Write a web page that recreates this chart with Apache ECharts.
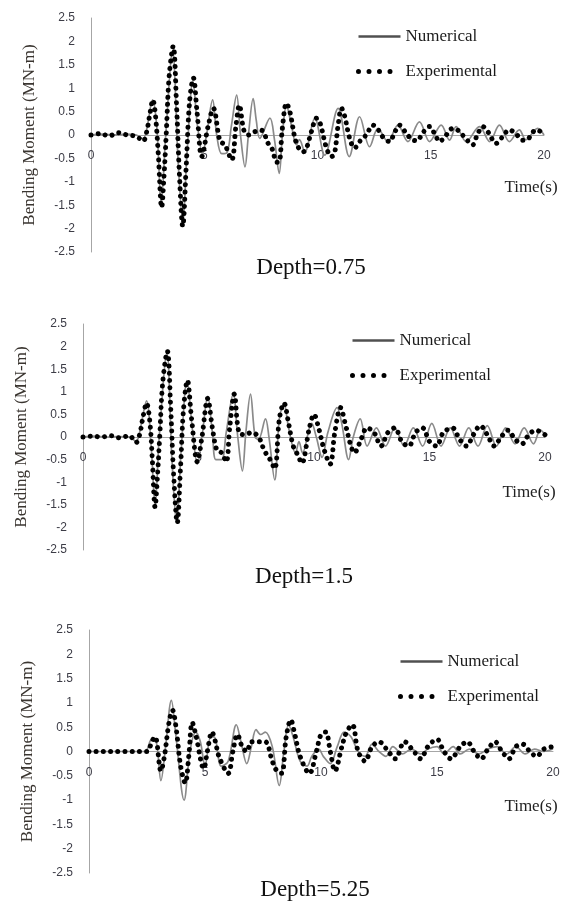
<!DOCTYPE html>
<html>
<head>
<meta charset="utf-8">
<script src="https://cdn.jsdelivr.net/npm/echarts@6/dist/echarts.min.js"></script>
<style>
html,body{margin:0;padding:0;background:#fff;}
#chart{width:568px;height:906px;}
</style>
</head>
<body>
<div id="chart"></div>
<script>
// ---- data (time s, bending moment MN-m) ----
const xTicks = [0, 5, 10, 15, 20];
const yTicks = [-2.5, -2, -1.5, -1, -0.5, 0, 0.5, 1, 1.5, 2, 2.5];
const seriesNames = ['Numerical', 'Experimental'];
const panelTitles = ['Depth=0.75', 'Depth=1.5', 'Depth=5.25'];

const num1 = [[0,0],[0.5,0.02],[1,0],[1.5,0.02],[2,0],[2.3,-0.08],[2.45,0.1],[2.72,0.75],[2.9,0.2],[3.1,-1.42],[3.3,0],[3.6,1.8],[3.85,-0.6],[4.05,-1.85],[4.25,-0.3],[4.5,1.15],[4.7,0.2],[4.93,-0.4],[5.1,0],[5.37,0.75],[5.55,0],[5.77,-0.4],[6.0,-0.38],[6.2,0.2],[6.43,0.85],[6.6,0],[6.8,-0.68],[6.95,0],[7.16,0.78],[7.3,0.3],[7.45,-0.07],[7.9,0.36],[8.1,-0.1],[8.31,-0.82],[8.45,0],[8.63,0.64],[8.85,0.2],[9.07,-0.21],[9.2,-0.1],[9.44,-0.36],[9.88,0.36],[10.32,-0.43],[10.91,0.57],[11.4,-0.46],[11.86,0.39],[12.3,-0.25],[12.67,0.14],[13.1,-0.14],[13.55,0.21],[13.99,-0.14],[14.5,0.28],[14.95,-0.14],[15.46,0.21],[15.83,-0.11],[16.12,0.18],[16.56,-0.14],[17.15,0.18],[17.6,-0.14],[18.03,0.21],[18.47,-0.14],[18.91,0.11],[19.2,-0.1],[19.72,0.14],[20,0]];
const exp1 = [[0,0],[0.4,0.03],[0.8,-0.02],[1.2,0.05],[1.6,0],[2,-0.03],[2.3,-0.13],[2.45,0.05],[2.6,0.45],[2.73,0.75],[2.85,0.4],[2.97,-0.4],[3.12,-1.55],[3.22,-0.9],[3.32,0],[3.45,1.25],[3.63,1.9],[3.78,0.6],[3.9,-0.8],[4.05,-1.95],[4.2,-0.7],[4.35,0.7],[4.52,1.22],[4.68,0.5],[4.89,-0.46],[5.18,0.21],[5.4,0.57],[5.7,-0.14],[5.9,-0.2],[6.21,-0.53],[6.4,0.2],[6.55,0.64],[6.75,0.1],[6.95,0],[7.24,0.07],[7.53,0.1],[7.82,-0.18],[8,-0.3],[8.2,-0.58],[8.3,-0.58],[8.45,0.15],[8.63,0.68],[8.78,0.5],[9.07,-0.18],[9.37,-0.36],[9.5,-0.3],[9.73,0.07],[9.96,0.36],[10.1,0.28],[10.4,-0.28],[10.62,-0.46],[10.75,-0.4],[10.91,0.21],[11.06,0.57],[11.2,0.4],[11.42,-0.07],[11.64,-0.28],[11.86,-0.14],[12.15,0],[12.45,0.21],[12.7,0.1],[12.9,-0.05],[13.18,-0.14],[13.4,0.05],[13.62,0.21],[13.9,0.05],[14.21,-0.11],[14.4,-0.12],[14.65,0.05],[14.95,0.18],[15.2,0],[15.39,-0.14],[15.65,-0.02],[15.97,0.14],[16.2,0.1],[16.5,-0.05],[16.85,-0.21],[17.05,0],[17.3,0.18],[17.55,0.05],[17.88,-0.18],[18.15,-0.05],[18.47,0.11],[18.75,0.03],[19.06,-0.11],[19.3,-0.08],[19.65,0.11],[19.87,0.07],[20,0.02]];

const num2 = [[0,0],[0.5,0.02],[1,0],[1.5,0.01],[2,0],[2.3,-0.1],[2.45,0.1],[2.75,0.8],[2.95,-0.2],[3.12,-1.5],[3.3,0],[3.63,1.85],[3.85,-0.5],[4.05,-1.9],[4.25,-0.3],[4.5,1.25],[4.75,0.1],[4.95,-0.6],[5.15,0],[5.4,0.9],[5.6,0.1],[5.75,-0.5],[6,-0.5],[6.2,0.1],[6.5,0.95],[6.7,0],[6.9,-0.75],[7.05,0.1],[7.25,0.95],[7.45,0],[7.6,-0.05],[7.9,0.4],[8.05,0],[8.3,-0.95],[8.5,0.4],[8.7,0.75],[8.9,0.2],[9.2,-0.35],[9.35,-0.1],[9.5,-0.35],[9.9,0.3],[10.1,0],[10.35,-0.45],[10.6,0.1],[11,0.65],[11.2,0.3],[11.5,-0.5],[11.7,0],[12,0.4],[12.3,-0.2],[12.7,0.2],[13.1,-0.2],[13.5,0.2],[13.9,-0.2],[14.3,0.2],[14.7,-0.2],[15.1,0.3],[15.5,-0.2],[15.9,0.2],[16.3,-0.2],[16.7,0.2],[17.1,-0.2],[17.5,0.25],[17.9,-0.2],[18.3,0.2],[18.7,-0.15],[19.1,0.2],[19.5,-0.15],[19.8,0.15],[20,0.05]];
const exp2 = [[0,0],[0.4,0.02],[0.8,0],[1.2,0.03],[1.6,-0.02],[2,0.03],[2.3,-0.12],[2.45,0.05],[2.6,0.45],[2.75,0.75],[2.9,0.3],[3.0,-0.5],[3.12,-1.55],[3.22,-0.9],[3.32,0],[3.45,1.2],[3.65,1.9],[3.8,0.6],[3.92,-0.8],[4.08,-1.9],[4.22,-0.7],[4.35,0.6],[4.52,1.25],[4.7,0.4],[4.95,-0.55],[5.15,0],[5.4,0.85],[5.6,0.2],[5.8,-0.3],[6.0,-0.35],[6.2,-0.55],[6.35,0.2],[6.55,0.95],[6.75,0.1],[7.0,0.05],[7.3,0.1],[7.6,0.0],[7.85,-0.3],[8.1,-0.5],[8.3,-0.7],[8.5,0.4],[8.7,0.75],[8.9,0.3],[9.1,-0.2],[9.3,-0.4],[9.47,-0.58],[9.8,0.2],[10.0,0.5],[10.2,0.2],[10.45,-0.3],[10.7,-0.6],[10.9,0.1],[11.15,0.65],[11.35,0.3],[11.6,-0.2],[11.75,-0.35],[12.0,-0.1],[12.3,0.2],[12.6,0.1],[12.9,-0.2],[13.2,0.1],[13.5,0.2],[13.8,-0.1],[14.1,-0.2],[14.4,0.1],[14.7,0.2],[15.0,-0.1],[15.3,-0.2],[15.6,0.1],[16.0,0.2],[16.3,-0.05],[16.6,-0.2],[16.9,0.05],[17.2,0.25],[17.5,0.05],[17.8,-0.2],[18.1,0.0],[18.4,0.15],[18.7,-0.05],[19.0,-0.15],[19.3,0.05],[19.6,0.15],[20,0.05]];

const num3 = [[0,0],[2.4,0],[2.7,0.25],[2.9,0.2],[3.1,-0.6],[3.3,0.1],[3.55,1.05],[3.75,0.3],[4.1,-1.0],[4.35,0],[4.6,0.4],[4.8,0.2],[5,-0.3],[5.25,0.3],[5.4,0.3],[5.7,-0.3],[6,-0.2],[6.35,0.55],[6.55,0.2],[6.8,-0.25],[7,0.1],[7.2,0.45],[7.4,0.35],[7.6,0.4],[7.9,0.1],[8.2,-0.7],[8.4,0],[8.6,0.55],[8.8,0.3],[9.1,-0.2],[9.4,-0.3],[9.6,-0.1],[9.9,0.05],[10.1,-0.1],[10.4,-0.25],[10.7,0.1],[11,0.4],[11.3,0.3],[11.6,0],[11.9,-0.1],[12.2,0.15],[12.5,0],[12.8,-0.1],[13.1,0.1],[13.5,-0.05],[13.9,0.05],[14.3,-0.05],[14.6,0.05],[15,0.1],[15.3,-0.05],[15.7,0.1],[16,-0.05],[16.4,0.05],[16.8,-0.05],[17.2,0.05],[17.6,0.1],[18,-0.05],[18.4,0.1],[18.8,-0.05],[19.2,0.05],[19.6,0],[20,0.05]];
const exp3 = [[0,0],[2.5,0],[2.7,0.2],[2.85,0.3],[3.1,-0.4],[3.25,-0.1],[3.45,0.6],[3.6,0.85],[3.75,0.5],[3.95,-0.3],[4.15,-0.65],[4.3,-0.1],[4.45,0.6],[4.6,0.35],[4.95,-0.35],[5.1,0],[5.3,0.4],[5.45,0.2],[5.6,-0.1],[6,-0.45],[6.2,0],[6.4,0.35],[6.6,0.1],[6.8,0],[7,0.2],[7.3,0.2],[7.6,0.2],[7.9,-0.2],[8.1,-0.4],[8.3,-0.45],[8.5,0.3],[8.7,0.65],[8.85,0.4],[9.1,-0.1],[9.5,-0.45],[9.8,0],[10,0.35],[10.2,0.4],[10.4,0],[10.6,-0.4],[10.9,0.1],[11.1,0.4],[11.35,0.55],[11.6,0],[11.9,-0.2],[12.2,0.1],[12.5,0.2],[12.9,0],[13.2,-0.15],[13.6,0.2],[14,0],[14.3,-0.15],[14.6,0.1],[15,0.25],[15.3,0],[15.6,-0.15],[16,0.1],[16.3,0.2],[16.6,0],[16.9,-0.15],[17.2,0.05],[17.5,0.2],[17.8,0],[18.1,-0.15],[18.4,0.1],[18.7,0.15],[19,0],[19.3,-0.1],[19.6,0.05],[20,0.1]];

const panelData = [[num1, exp1], [num2, exp2], [num3, exp3]];

// ---- layout ----
const grids = [
  {left: 91, top: 18, width: 453, height: 234},
  {left: 83, top: 324, width: 462, height: 226},
  {left: 89, top: 630, width: 464, height: 243}
];
const legendPos = [{left: 356, top: 28}, {left: 350, top: 332}, {left: 398, top: 653}];
const timePos = [{x: 531, y: 188}, {x: 529, y: 493}, {x: 531, y: 807}];
const depthPos = [{x: 311, y: 268}, {x: 304, y: 577}, {x: 315, y: 890}];

const serif = 'Liberation Serif';
const sans = 'Liberation Sans';

const option = {
  animation: false,
  backgroundColor: '#fff',
  grid: grids.map(g => Object.assign({containLabel: false}, g)),
  xAxis: grids.map((g, i) => ({
    gridIndex: i, type: 'value', min: xTicks[0], max: xTicks[xTicks.length - 1], interval: 5,
    position: 'bottom', offset: -g.height / 2,
    axisLine: {onZero: false, lineStyle: {color: '#a6a6a6', width: 1}},
    axisTick: {show: false},
    splitLine: {show: false},
    axisLabel: {color: '#3c3c46', fontFamily: sans, fontSize: 12, margin: 15,
      formatter: v => xTicks.includes(v) ? String(v) : ''}
  })),
  yAxis: grids.map((g, i) => ({
    gridIndex: i, type: 'value', min: yTicks[0], max: yTicks[yTicks.length - 1], interval: 0.5,
    axisLine: {show: true, onZero: false, lineStyle: {color: '#a6a6a6', width: 1}},
    axisTick: {show: false},
    splitLine: {show: false},
    axisLabel: {color: '#3c3c46', fontFamily: sans, fontSize: 12, margin: 16,
      formatter: v => String(v)},
    name: 'Bending Moment (MN-m)', nameLocation: 'middle', nameGap: 53,
    nameTextStyle: {fontFamily: serif, fontSize: 17, color: '#3a3530'}
  })),
  legend: legendPos.map(p => ({
    orient: 'vertical', left: p.left, top: p.top,
    itemWidth: 42, itemHeight: 14, itemGap: 18, padding: 0,
    itemStyle: {color: 'rgba(0,0,0,0)', borderWidth: 0, opacity: 0},
    data: [
      {name: seriesNames[0], lineStyle: {color: '#505050', width: 2.4, type: 'solid'}},
      {name: seriesNames[1], lineStyle: {color: '#000', width: 5, type: [0.001, 10.5], cap: 'round'}}
    ],
    textStyle: {fontFamily: serif, fontSize: 17, color: '#1a1a1a'}
  })),
  title: panelTitles.map((t, i) => ({
    text: t, left: depthPos[i].x, top: depthPos[i].y, textAlign: 'center', textVerticalAlign: 'middle', padding: 0,
    textStyle: {fontFamily: serif, fontSize: 23, fontWeight: 'normal', color: '#111'}
  })).concat(timePos.map(p => ({
    text: 'Time(s)', left: p.x, top: p.y, textAlign: 'center', textVerticalAlign: 'middle', padding: 0,
    textStyle: {fontFamily: serif, fontSize: 17, fontWeight: 'normal', color: '#222'}
  }))),
  series: []
};

panelData.forEach((pair, i) => {
  option.series.push({
    name: seriesNames[0], type: 'line', xAxisIndex: i, yAxisIndex: i,
    data: pair[0], showSymbol: false, symbol: 'none', smooth: 0.35,
    lineStyle: {color: '#8a8a8a', width: 1.7}, itemStyle: {color: '#8a8a8a'}, z: 2
  });
  option.series.push({
    name: seriesNames[1], type: 'line', xAxisIndex: i, yAxisIndex: i,
    data: pair[1], showSymbol: false, symbol: 'none', smooth: 0.35,
    lineStyle: {color: '#000', width: 5, type: [0.001, 7.2], cap: 'round'},
    itemStyle: {color: '#000'}, z: 3
  });
});

const chart = echarts.init(document.getElementById('chart'), null, {renderer: 'canvas'});
chart.setOption(option);
</script>
</body>
</html>
